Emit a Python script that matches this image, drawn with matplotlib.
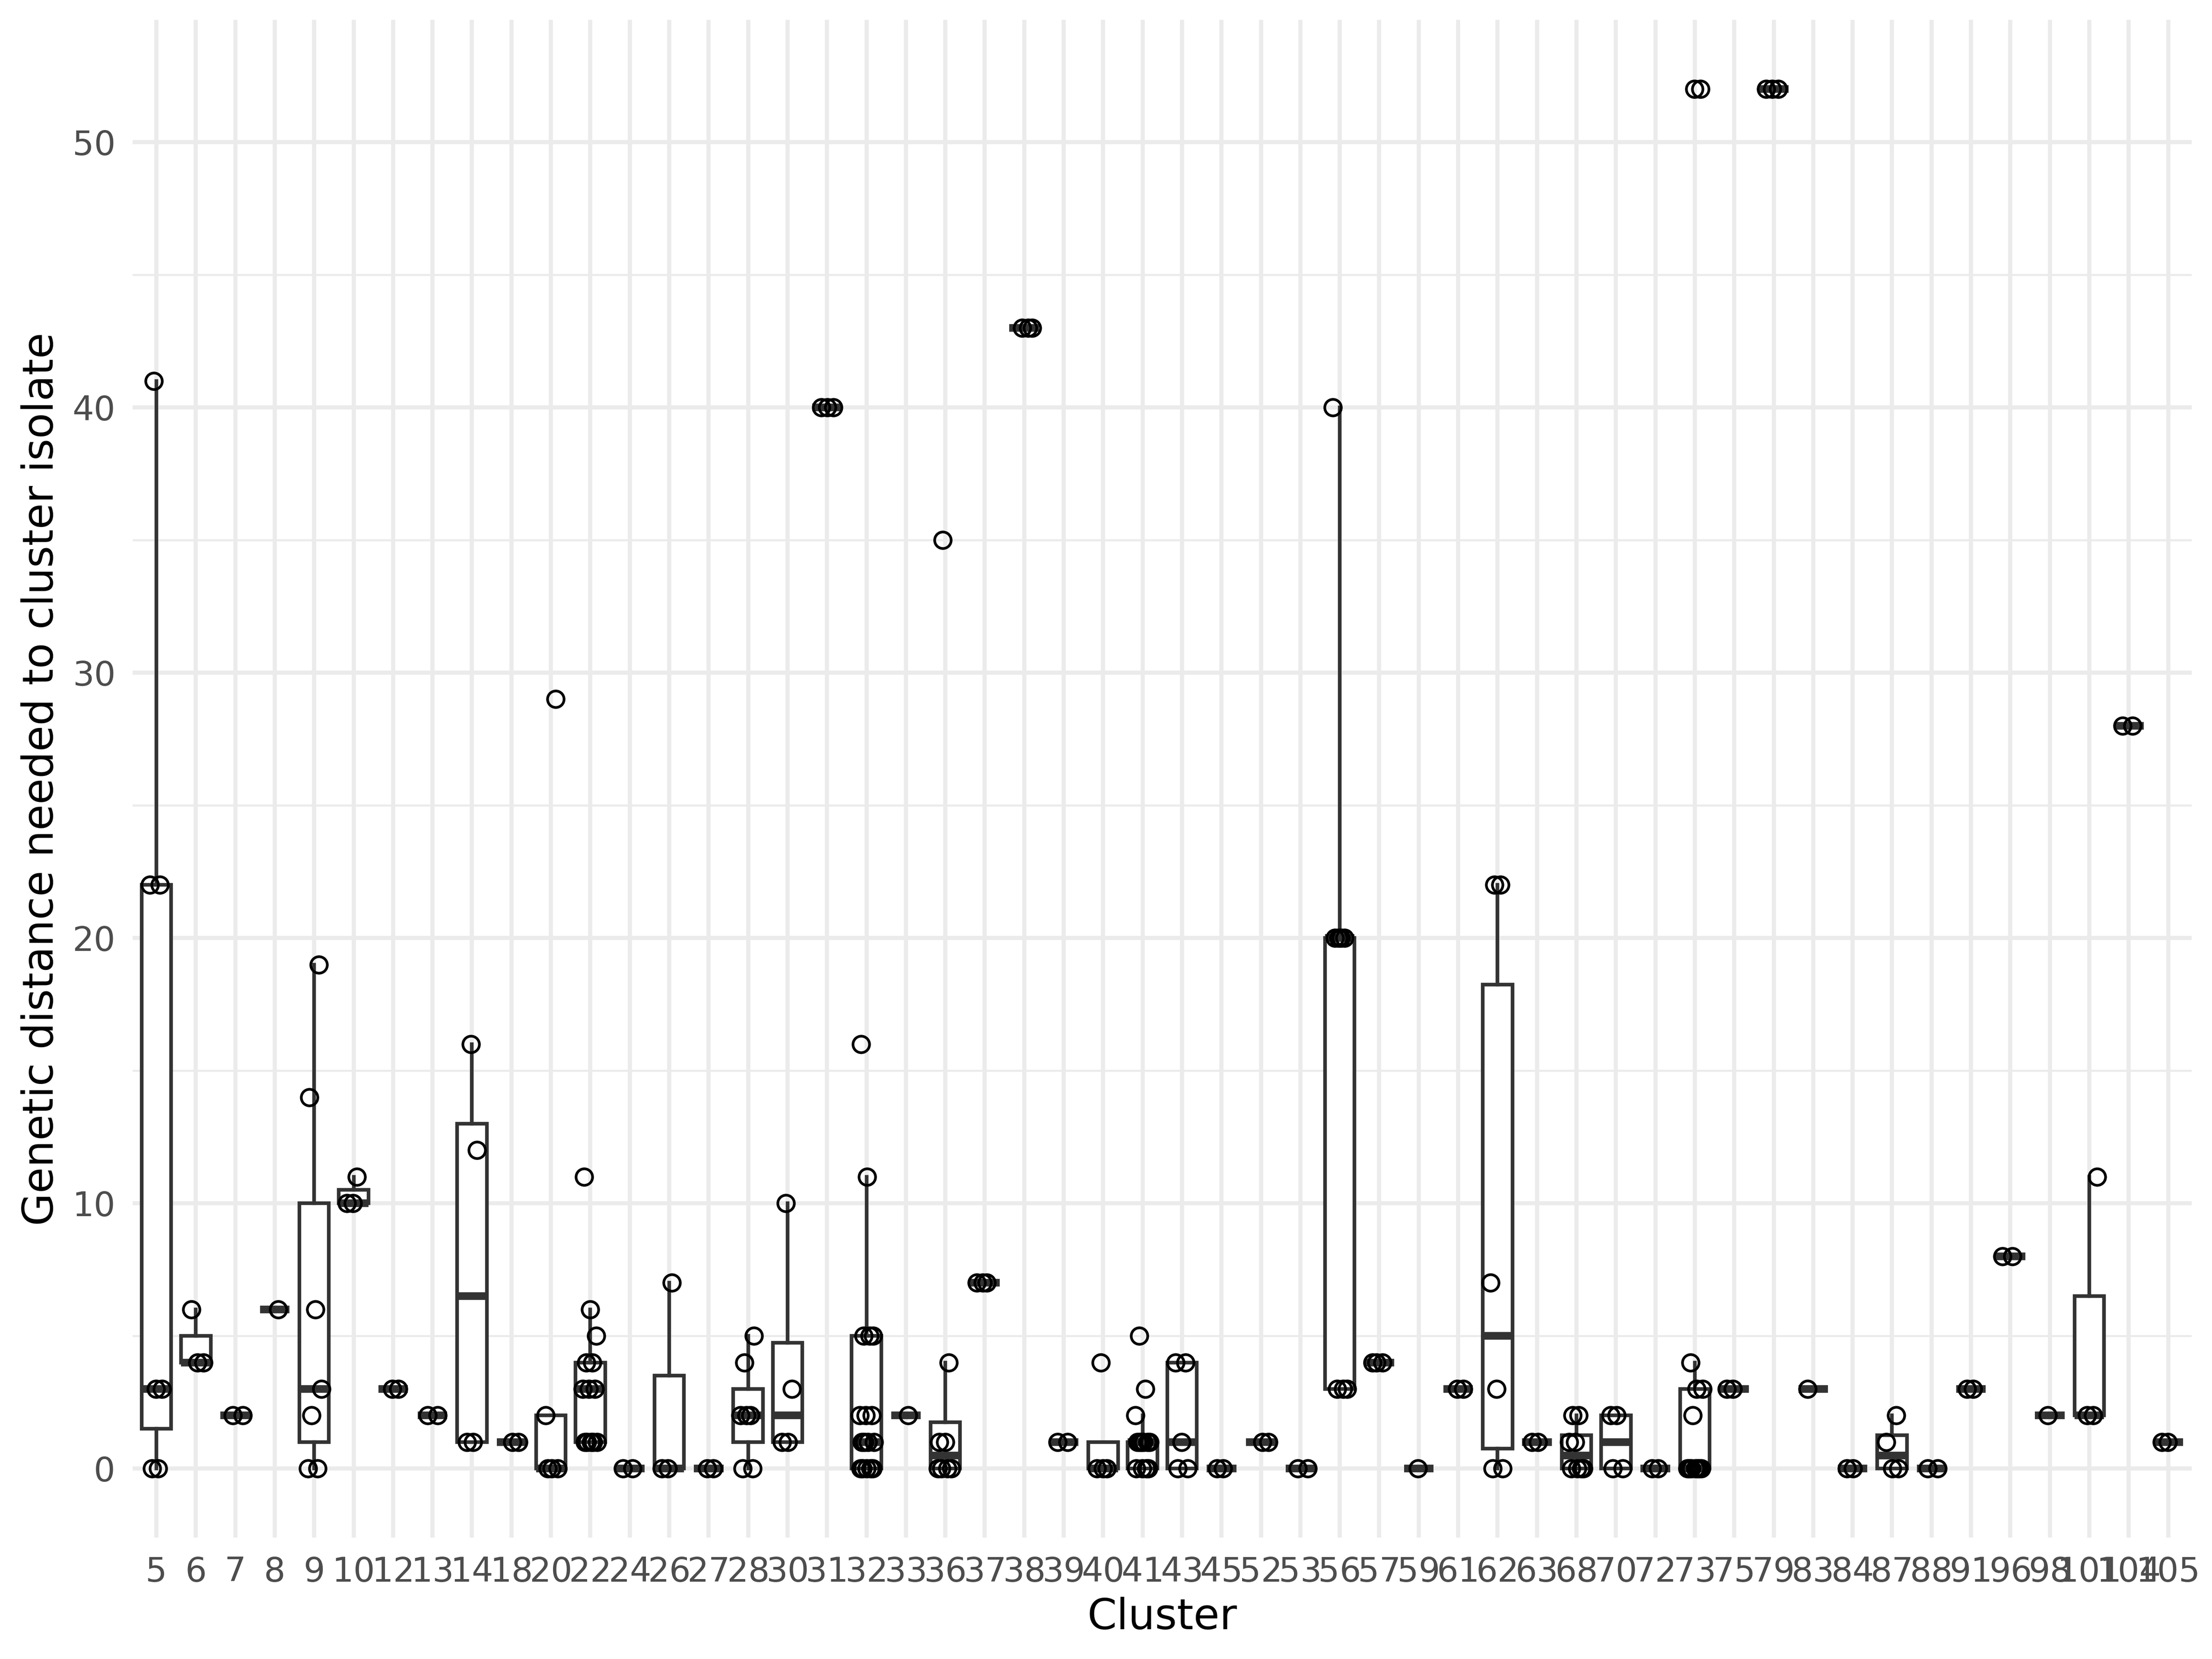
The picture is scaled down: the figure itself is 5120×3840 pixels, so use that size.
import matplotlib
matplotlib.use("Agg")
import matplotlib.pyplot as plt
import numpy as np

plt.rcParams['font.family'] = ['DejaVu Sans']

clusters = [5, 6, 7, 8, 9, 10, 12, 13, 14, 18, 20, 22, 24, 26, 27, 28, 30, 31, 32, 33,
            36, 37, 38, 39, 40, 41, 43, 45, 52, 53, 56, 57, 59, 61, 62, 63, 68, 70, 72, 73,
            75, 79, 83, 84, 87, 88, 91, 96, 98, 101, 104, 105]

d5 = [0, 0, 3, 3, 22, 22, 41]
d6 = [4, 4, 6]
d7 = [2, 2]
d8 = [6]
d9 = [0, 0, 2, 3, 6, 14, 19]
d10 = [10, 10, 11]
d12 = [3, 3]
d13 = [2, 2]
d14 = [1, 1, 12, 16]
d18 = [1, 1]
d20 = [0, 0, 0, 2, 29]
d22 = [1, 1, 1, 1, 1, 3, 3, 3, 4, 4, 5, 6, 11]
d24 = [0, 0]
d26 = [0, 0, 7]
d27 = [0, 0]
d28 = [0, 0, 2, 2, 2, 4, 5]
d30 = [1, 1, 3, 10]
d31 = [40, 40, 40]
d32 = [0, 0, 0, 0, 0, 1, 1, 1, 1, 2, 2, 2, 5, 5, 5, 11, 16]
d33 = [2]
d36 = [0, 0, 0, 0, 1, 1, 4, 35]
d37 = [7, 7, 7]
d38 = [43, 43, 43]
d39 = [1, 1]
d40 = [0, 0, 0, 4]
d41 = [0, 0, 0, 0, 1, 1, 1, 1, 1, 1, 2, 3, 5]
d43 = [0, 0, 1, 4, 4]
d45 = [0, 0]
d52 = [1, 1]
d53 = [0, 0]
d56 = [3, 3, 3, 20, 20, 20, 20, 40]
d57 = [4, 4, 4]
d59 = [0]
d61 = [3, 3]
d62 = [0, 0, 3, 7, 22, 22]
d63 = [1, 1]
d68 = [0, 0, 0, 0, 1, 1, 2, 2]
d70 = [0, 0, 2, 2]
d72 = [0, 0]
d73 = [0, 0, 0, 0, 0, 0, 0, 2, 3, 3, 4, 52, 52]
d75 = [3, 3]
d79 = [52, 52, 52]
d83 = [3]
d84 = [0, 0]
d87 = [0, 0, 1, 2]
d88 = [0, 0]
d91 = [3, 3]
d96 = [8, 8]
d98 = [2]
d101 = [2, 2, 11]
d104 = [28, 28]
d105 = [1, 1]

distances = [d5, d6, d7, d8, d9, d10, d12, d13, d14, d18, d20, d22, d24, d26, d27, d28,
             d30, d31, d32, d33, d36, d37, d38, d39, d40, d41, d43, d45, d52, d53, d56,
             d57, d59, d61, d62, d63, d68, d70, d72, d73, d75, d79, d83, d84, d87, d88,
             d91, d96, d98, d101, d104, d105]

x_label = "Cluster"
y_label = "Genetic distance needed to cluster isolate"

fig = plt.figure(figsize=(8, 6), dpi=640)
ax = fig.add_axes([0.060, 0.0732, 0.9909 - 0.060, 0.9879 - 0.0732])

n = len(clusters)
pos = np.arange(n)

grid_col = "#EBEBEB"
ax.set_axisbelow(True)
for p in pos:
    ax.axvline(p, color=grid_col, lw=1.07, zorder=0)
for yv in range(0, 51, 10):
    ax.axhline(yv, color=grid_col, lw=1.07, zorder=0)
for yv in range(5, 50, 10):
    ax.axhline(yv, color=grid_col, lw=0.53, zorder=0)

box_col = "#333333"
lw = 0.95
ax.boxplot(distances, positions=pos, widths=0.75, whis=1.5, showfliers=False,
           showcaps=False, patch_artist=True,
           boxprops=dict(facecolor="white", edgecolor=box_col, linewidth=lw),
           medianprops=dict(color=box_col, linewidth=lw * 2.1, solid_capstyle="butt"),
           whiskerprops=dict(color=box_col, linewidth=lw),
           zorder=2)

golden = 0.6180339887
for i, vals in enumerate(distances):
    k = np.arange(len(vals))
    offs = (((k + 1) * golden + i * 0.37) % 1.0 - 0.5) * 0.4
    ax.plot(pos[i] + offs, vals, linestyle="none", marker="o", markersize=4.3,
            markerfacecolor="none", markeredgecolor="black", markeredgewidth=0.7,
            zorder=3)

ax.set_xlim(-0.6, n - 1 + 0.6)
ax.set_ylim(-2.6, 54.6)
ax.set_xticks(pos)
ax.set_xticklabels([str(c) for c in clusters])
ax.set_yticks(range(0, 51, 10))
ax.tick_params(axis="both", length=0, labelsize=8.8, labelcolor="#4D4D4D")
ax.tick_params(axis="x", pad=4.7)
ax.tick_params(axis="y", pad=4.5)
for s in ax.spines.values():
    s.set_visible(False)
ax.set_xlabel(x_label, fontsize=11, color="black", labelpad=2.2)
ax.set_ylabel(y_label, fontsize=11, color="black", labelpad=2.75)

fig.savefig("out.png", dpi=640)
